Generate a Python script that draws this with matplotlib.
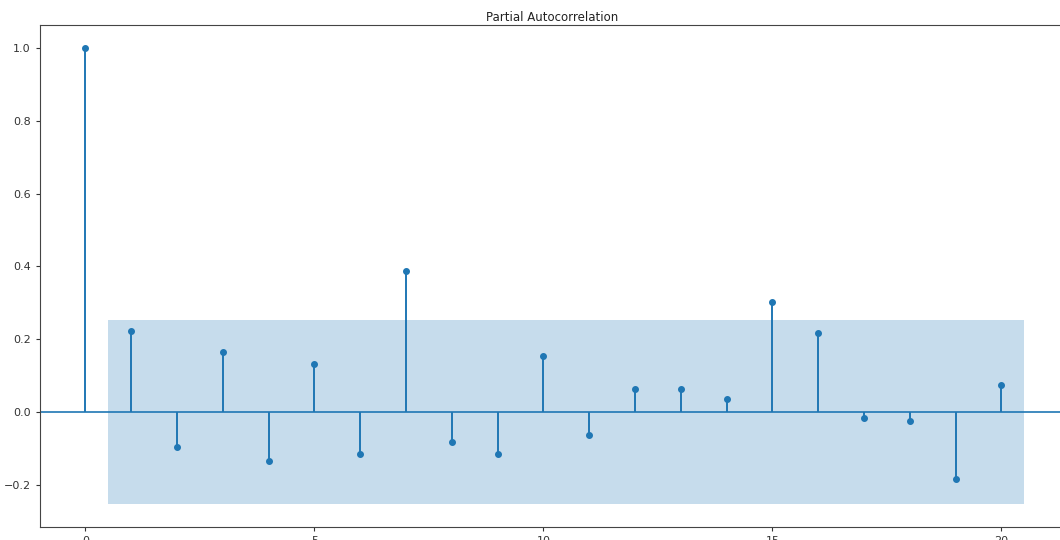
import numpy as np
import matplotlib
matplotlib.use('Agg')
import matplotlib.pyplot as plt

lags = np.arange(21)
pacf_vals = [1.0, 0.222, -0.096, 0.165, -0.135, 0.132, -0.115, 0.387, -0.082, -0.115,
             0.154, -0.063, 0.063, 0.063, 0.036, 0.302, 0.217, -0.016, -0.025, -0.184, 0.074]
conf = 0.253
title = 'Partial Autocorrelation'

fig = plt.figure(figsize=(10.6, 5.4), dpi=100)
ax = fig.add_axes([0.0373, 0.024, 0.968, 0.9297])

ax.vlines(lags, 0, pacf_vals, color='#1f77b4', lw=1.4)
ax.plot(lags, pacf_vals, 'o', color='#1f77b4', markersize=4)
ax.axhline(0, color='#1f77b4', lw=1.2)
band_x = np.arange(0.5, 21.0, 1.0)
ax.fill_between(band_x, -conf, conf, color='#1f77b4', alpha=0.25, lw=0)

ax.set_xlim(-1, 21.4)
ax.set_ylim(-0.316, 1.063)
ax.set_xticks([0, 5, 10, 15, 20])
ax.set_yticks([-0.2, 0.0, 0.2, 0.4, 0.6, 0.8, 1.0])
ax.tick_params(labelsize=8, length=3, colors='#333333')
for s in ax.spines.values():
    s.set_color('#444444')
ax.set_title(title, fontsize=8.5, pad=3, color='#222222')

fig.savefig('out.png', dpi=100)
